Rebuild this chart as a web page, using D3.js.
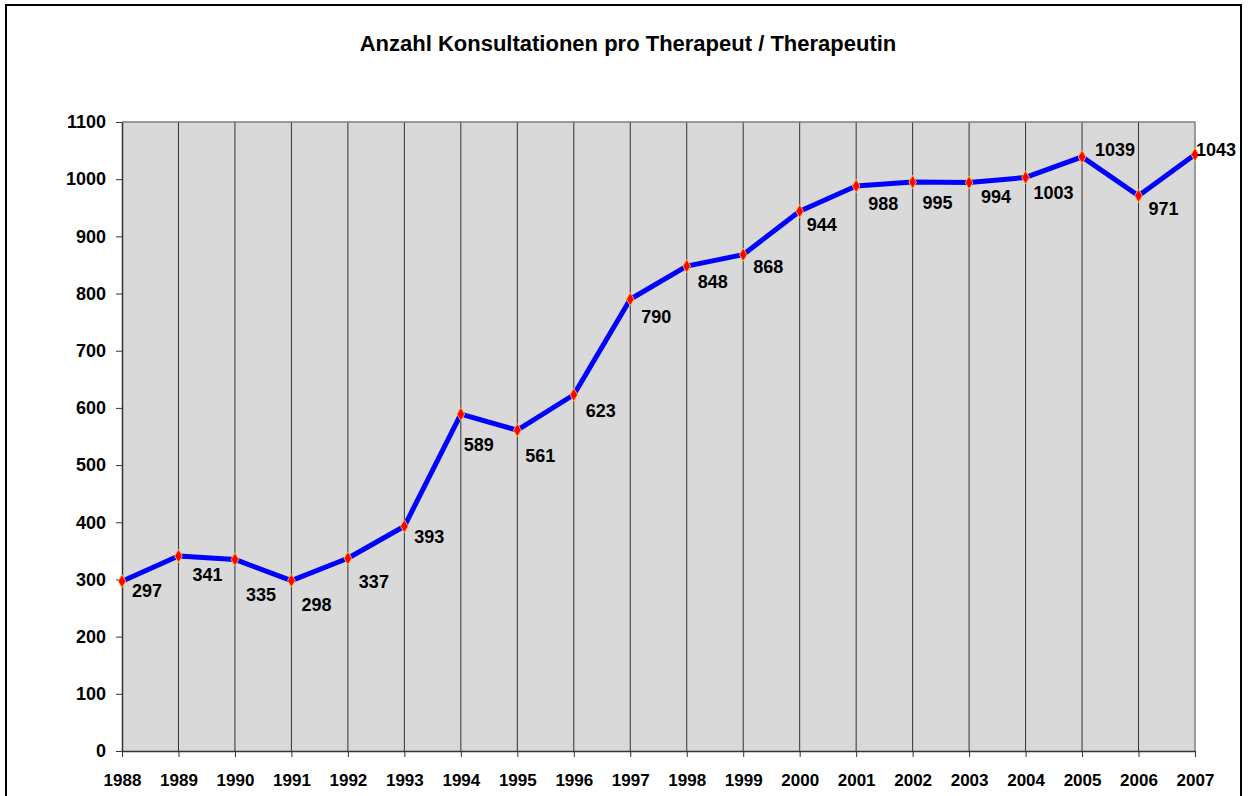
<!DOCTYPE html>
<html><head>
<meta charset="utf-8">
<title>Anzahl Konsultationen pro Therapeut / Therapeutin</title>
<script src="https://d3js.org/d3.v7.min.js"></script>
<style>
  body { margin: 0; background: #fff; }
  text { font-family: Arial, "Liberation Sans", sans-serif; fill: #000; }
  .tick text { font-size: 17px; font-weight: bold; }
  .yaxis .tick text { font-size: 18px; }
  .tick line { stroke: #333; }
  .domain { stroke: #333; }
  .grid { stroke: #333; stroke-width: 1px; }
  .plotbg { fill: #d9d9d9; }
  .border { fill: none; stroke: #808080; stroke-width: 1.5px; }
  .series { fill: none; stroke: #0000ff; stroke-width: 5px; stroke-linejoin: round; }
  .marker { fill: #ff0000; stroke: #ffb030; stroke-width: 1px; }
  .label { font-size: 18px; font-weight: bold; }
</style>
</head>
<body>
<svg id="chart" width="1248" height="796"></svg>
<script>

// data
const years = ["1988","1989","1990","1991","1992","1993","1994","1995","1996","1997",
               "1998","1999","2000","2001","2002","2003","2004","2005","2006","2007"];
const consultations = [297, 341, 335, 298, 337, 393, 589, 561, 623, 790,
                       848, 868, 944, 988, 995, 994, 1003, 1039, 971, 1043];
const yTicks = [0, 100, 200, 300, 400, 500, 600, 700, 800, 900, 1000, 1100];
const title = "Anzahl Konsultationen pro Therapeut / Therapeutin";

// hand placed label offsets (label centre relative to point), like in the original
const labelOffsets = [[25,9],[29,19],[26,35],[25,24],[26,23],[25,10],[18,30],[23,25],[27,16],[26,17],
                      [26,15],[25,12],[22,13],[27,17],[25,20],[27,14],[28,15],[33,-7],[25,13],[21,-5]];

var svg = d3.select("#chart");

// outer frame
svg.append("rect")
  .attr("x", 6).attr("y", 5)
  .attr("width", 1235).attr("height", 820)
  .attr("fill", "none").attr("stroke", "#000").attr("stroke-width", 2);

var margin = {left: 122, top: 122, right: 1195, bottom: 751};

var x = d3.scalePoint().domain(years).range([margin.left, margin.right]);
var y = d3.scaleLinear().domain([0, 1100]).range([margin.bottom, margin.top]);

svg.append("text")
  .attr("x", 628).attr("y", 51)
  .attr("text-anchor", "middle")
  .style("font-size", "22px")
  .style("font-weight", "bold")
  .text(title);

// plot area background
svg.append("rect")
  .attr("class", "plotbg")
  .attr("x", margin.left).attr("y", margin.top)
  .attr("width", margin.right - margin.left)
  .attr("height", margin.bottom - margin.top);

// vertical gridlines at each year
svg.selectAll("line.grid").data(years.slice(1, -1))
  .enter().append("line")
  .attr("class", "grid")
  .attr("x1", d => x(d)).attr("x2", d => x(d))
  .attr("y1", margin.top).attr("y2", margin.bottom);

// top and right border
svg.append("path")
  .attr("class", "border")
  .attr("d", `M${margin.left},${margin.top}H${margin.right}V${margin.bottom}`);

var yAxis = d3.axisLeft(y).tickValues(yTicks).tickFormat(d3.format("d"))
  .tickSize(6).tickPadding(10).tickSizeOuter(0);
svg.append("g")
  .attr("class", "yaxis")
  .attr("transform", `translate(${margin.left},0)`)
  .call(yAxis);

var xAxis = d3.axisBottom(x).tickSize(6).tickPadding(17).tickSizeOuter(0);
svg.append("g")
  .attr("class", "xaxis")
  .attr("transform", `translate(0,${margin.bottom})`)
  .call(xAxis);

svg.selectAll(".domain").attr("stroke-width", 1.5);

var line = d3.line()
  .x((d, i) => x(years[i]))
  .y(d => y(d));

svg.append("path")
  .datum(consultations)
  .attr("class", "series")
  .attr("d", line);

svg.selectAll("path.marker").data(consultations)
  .enter().append("path")
  .attr("class", "marker")
  .attr("d", d3.symbol().type(d3.symbolDiamond).size(50))
  .attr("transform", (d, i) => `translate(${x(years[i])},${y(d)})`);

svg.selectAll("text.label").data(consultations)
  .enter().append("text")
  .attr("class", "label")
  .attr("text-anchor", "middle")
  .attr("dy", "0.36em")
  .attr("x", (d, i) => x(years[i]) + labelOffsets[i][0])
  .attr("y", (d, i) => y(d) + labelOffsets[i][1])
  .text(d => d);

</script>
</body>
</html>
